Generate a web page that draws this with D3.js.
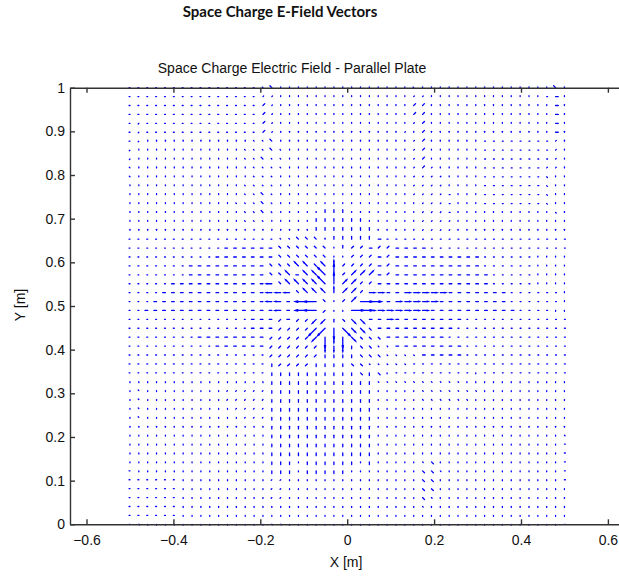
<!DOCTYPE html>
<html>
<head>
<meta charset="utf-8">
<script src="https://d3js.org/d3.v7.min.js"></script>
<style>
  body { margin: 0; background: #fff; }
  svg text { font-family: "Liberation Sans", Arial, sans-serif; fill: #111; }
</style>
</head>
<body onload="drawChart()">
<script>
// tick labels
var xTicks = [-0.6, -0.4, -0.2, 0, 0.2, 0.4, 0.6];
var yTicks = [0, 0.1, 0.2, 0.3, 0.4, 0.5, 0.6, 0.7, 0.8, 0.9, 1];

// sampling grid of the quiver (linspace 50 points)
var gridX = [-0.5,-0.4796,-0.4592,-0.4388,-0.4184,-0.398,-0.3776,-0.3571,-0.3367,-0.3163,
  -0.2959,-0.2755,-0.2551,-0.2347,-0.2143,-0.1939,-0.1735,-0.1531,-0.1327,-0.1122,
  -0.0918,-0.0714,-0.051,-0.0306,-0.0102,0.0102,0.0306,0.051,0.0714,0.0918,
  0.1122,0.1327,0.1531,0.1735,0.1939,0.2143,0.2347,0.2551,0.2755,0.2959,
  0.3163,0.3367,0.3571,0.3776,0.398,0.4184,0.4388,0.4592,0.4796,0.5];
var gridY = [0,0.0204,0.0408,0.0612,0.0816,0.102,0.1224,0.1429,0.1633,0.1837,
  0.2041,0.2245,0.2449,0.2653,0.2857,0.3061,0.3265,0.3469,0.3673,0.3878,
  0.4082,0.4286,0.449,0.4694,0.4898,0.5102,0.5306,0.551,0.5714,0.5918,
  0.6122,0.6327,0.6531,0.6735,0.6939,0.7143,0.7347,0.7551,0.7755,0.7959,
  0.8163,0.8367,0.8571,0.8776,0.898,0.9184,0.9388,0.9592,0.9796,1];

var chargeAt = [-0.02, 0.5];

// arrow kinds: [orientation in degrees, strength relative to grid step]
var glyphs = {
  ".": [90, 0.1], "_": [0, 0.1], ",": [45, 0.1], "`": [135, 0.1],
  "|": [90, 0.3], "-": [0, 0.3], "/": [45, 0.3], "k": [135, 0.3],
  "I": [90, 0.62], "=": [0, 0.62], "R": [45, 0.62], "K": [135, 0.62],
  "V": [90, 1.2], "H": [0, 1.35], "A": [45, 1.2], "B": [135, 1.2]
};

// one string per grid row, top row (y = 1) first, one char per column
var fieldRows = [
  "__________" + "_____`k..." + ".........." + "..`......." + "........k.",
  "__________" + "_____,,..." + ".........." + "..,,......" + "......._-.",
  "__________" + "_____/,..." + ".........." + "..//......" + "........-.",
  "__________" + "_____/,..." + ".........." + "..//......" + "........-.",
  "_,________" + "_____/,..." + ".........." + "..,/......" + "........-.",
  "_,________" + "_____/,..." + ".........." + ".,./......" + "........-.",
  "_,........" + "....``k..." + ".........." + "..,/......" + "________,.",
  ",........." + "...```k`.." + ".........." + "..,/......" + "________,.",
  ",........." + "...``k``.." + ".........." + "..,/......" + "________,.",
  "`........." + "....````.." + ".........." + "..,/,....." + "_______,,.",
  "`........." + "....```..." + ".........." + "..,,,,...." + "_______`..",
  ".........." + "...````..." + ".........." + "..,,,,...." + "_______`..",
  ".........." + "...``k`..." + ".........." + "..,,,,_..." + "_______`..",
  ".........." + "..```k`..." + ".........." + "...,,,_..." + "_______`..",
  ".........." + "...``k`..." + "..|||....." + "...,,,_..." + "........`.",
  ".........." + "...```...." + ".||||||..." + "...,,,,..." + "..........",
  ".........." + ".........." + ".|||||||.." + "...,,,,..." + "..........",
  "__________" + "_______``k" + "kk.|||||-_" + "__________" + "__________",
  "__________" + "_------kkk" + "kkk.|//-//" + "----______" + "__________",
  "__________" + "-------kkk" + "kkk..///-/" + "----------" + "______....",
  "_______---" + "------kkkK" + "KkKI////-/" + "----------" + "______....",
  "_______---" + "------kkK-" + "KKBV/RRR-/" + "----------" + "-_____....",
  "_____-----" + "------=kKK" + "KKBVRR//--" + "----------" + "-_____....",
  "____------" + "------===k" + "KKKIRR/==-" + "-=====----" + "---______.",
  "___-------" + "------==--" + "HHk./RHH--" + "=====-----" + "---______.",
  "__--------" + "-------=--" + "HH/..HH===" + "====------" + "----____..",
  "__________" + "____---/-/" + "/RR|kKK--=" + "--------__" + "__________",
  "__________" + "____---///" + "/AAVBKKk--" + "-------___" + "__________",
  "________--" + "------////" + "/RVIVKkkk-" + "------____" + "__________",
  "__________" + "------////" + "//III|kk``" + "--------__" + "__________",
  "__________" + "______////" + "//||||kkk`" + "```-----__" + "__________",
  "__________" + "______|///" + "/||||kk```" + "``________" + "__________",
  "__________" + "______||||" + "||||||k|k." + "_________." + "__________",
  ".........." + "......||||" + "||||||||``" + "````````.." + "..........",
  ".`........" + ".,,,,,||||" + "||||||||.." + "...```````" + "..........",
  ".`........" + ".,,,,,||||" + "||||||||.." + "...``````." + "..........",
  ".`........" + "..,,,,||||" + "||||||||.." + ".........." + "..........",
  ".`........" + "...,,,||||" + "||||||||.." + ".........." + "..........",
  ".........." + "......||||" + "||||||||.." + ".........." + "..........",
  ".........." + "......||||" + "||||||||.." + ".........." + ".........`",
  ".........." + "......||||" + "||||||||.." + ".........." + "........._",
  ".........." + "......||||" + "||||||||.." + ".........." + "........._",
  ".........." + "......|||." + "||||||.|.." + "...`k....." + "........._",
  "_........." + "......|||." + "|||||....." + "...kk`...." + "........._",
  "______...." + "......,,.." + ".........." + "...kk....." + "........._",
  "______...." + "......,,.." + ".........." + "...kk....." + "..........",
  "______...." + "......,,.." + ".........." + "...k`....." + "..........",
  "______...." + ".........." + ".........." + "...`......" + "..........",
  "______...." + ".........." + ".........." + ".........." + "..........",
  "_`........" + "......``.." + ".........." + ".........." + "........._"
];

function drawChart() {
  var svg = d3.select("body").append("svg")
    .attr("width", 619)
    .attr("height", 577);

  var x = d3.scaleLinear().domain([-0.638, 0.638]).range([70, 624.4]);
  var y = d3.scaleLinear().domain([0, 1]).range([524.3, 87.7]);

  // page title
  svg.append("text")
    .attr("x", 280).attr("y", 17)
    .attr("text-anchor", "middle")
    .style("font-family", "Lato, 'Open Sans', sans-serif")
    .style("font-weight", "bold")
    .style("font-size", "15px")
    .text("Space Charge E-Field Vectors");

  // axes title
  svg.append("text")
    .attr("x", 292).attr("y", 73)
    .attr("text-anchor", "middle")
    .style("font-size", "14px")
    .text("Space Charge Electric Field - Parallel Plate");

  // quiver arrows
  var step = gridY[1] - gridY[0];
  var vectors = [];
  fieldRows.forEach(function(row, r) {
    var j = gridY.length - 1 - r;
    for (var i = 0; i < gridX.length; i++) {
      var g = glyphs[row.charAt(i)] || glyphs["."];
      var a = g[0] * Math.PI / 180;
      var u = Math.cos(a) * g[1], v = Math.sin(a) * g[1];
      if ((gridX[i] - chargeAt[0]) * u + (gridY[j] - chargeAt[1]) * v < 0) { u = -u; v = -v; }
      vectors.push({ x: gridX[i], y: gridY[j], u: u * step, v: v * step });
    }
  });

  function arrowPath(d) {
    var x0 = x(d.x), y0 = y(d.y), x1 = x(d.x + d.u), y1 = y(d.y + d.v);
    var dx = x1 - x0, dy = y1 - y0, al = 0.2, be = 0.3;
    var p = "M" + x0 + "," + y0 + "L" + x1 + "," + y1;
    if (Math.sqrt(dx * dx + dy * dy) > 4) {
      var hx1 = x1 - al * (dx + be * dy), hy1 = y1 - al * (dy - be * dx);
      var hx2 = x1 - al * (dx - be * dy), hy2 = y1 - al * (dy + be * dx);
      p += "M" + hx1 + "," + hy1 + "L" + x1 + "," + y1 + "L" + hx2 + "," + hy2;
    }
    return p;
  }

  svg.append("g").attr("class", "quiver")
    .selectAll("path").data(vectors).join("path")
    .attr("d", arrowPath)
    .attr("fill", "none")
    .attr("stroke", "#0000ff")
    .attr("stroke-width", 1.3)
    .attr("stroke-linecap", "round");

  // axes box with inward ticks
  var axisStyle = function(g) {
    g.selectAll("path, line").attr("stroke", "#333").attr("stroke-width", 1.4);
    g.selectAll("text").style("font-size", "14px").attr("fill", "#111")
      .style("font-family", "'Liberation Sans', Arial, sans-serif");
  };
  svg.append("g").attr("transform", "translate(0,524.3)")
    .call(d3.axisBottom(x).tickValues(xTicks).tickSizeInner(-5).tickSizeOuter(0)
      .tickPadding(10.5).tickFormat(d3.format("")))
    .call(axisStyle);
  svg.append("g").attr("transform", "translate(0,87.7)")
    .call(d3.axisTop(x).tickValues(xTicks).tickSizeInner(-5).tickSizeOuter(0).tickFormat(""))
    .call(axisStyle);
  svg.append("g").attr("transform", "translate(70,0)")
    .call(d3.axisLeft(y).tickValues(yTicks).tickSizeInner(-5).tickSizeOuter(0)
      .tickPadding(5).tickFormat(d3.format("")))
    .call(axisStyle);
  svg.append("g").attr("transform", "translate(624.4,0)")
    .call(d3.axisRight(y).tickValues(yTicks).tickSizeInner(-5).tickSizeOuter(0).tickFormat(""))
    .call(axisStyle);

  // axis labels
  svg.append("text")
    .attr("x", 346).attr("y", 567)
    .attr("text-anchor", "middle")
    .style("font-size", "14px")
    .text("X [m]");
  svg.append("text")
    .attr("transform", "translate(25,305) rotate(-90)")
    .attr("text-anchor", "middle")
    .style("font-size", "14px")
    .text("Y [m]");
}
</script>
</body>
</html>
